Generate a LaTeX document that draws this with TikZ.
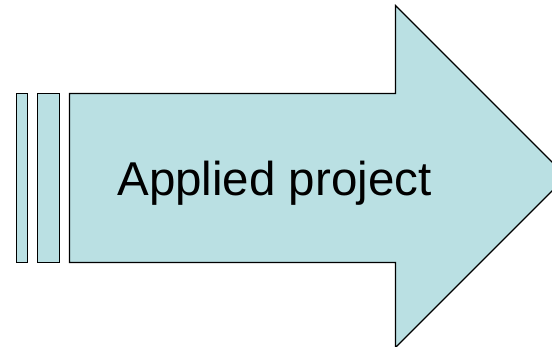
\documentclass[tikz,border=0pt]{standalone}
\usepackage{fontspec}
\setmainfont{Liberation Sans}
\definecolor{arrowfill}{RGB}{186,224,227}
\tikzset{
  arrowpart/.style={fill=arrowfill, draw=black, line width=1.6pt, line join=miter},
  label/.style={font=\fontsize{47.5}{50}\selectfont, inner sep=0pt, anchor=base}
}
\begin{document}
\begin{tikzpicture}[x=1pt,y=-1pt]
  \useasboundingbox (0,0) rectangle (552,347);
  \begin{scope}
    \clip (0,0) rectangle (552,347);
    % two narrow stripes behind the arrow
    \draw[arrowpart] (16.5,93.5) rectangle (27.5,262.5);
    \draw[arrowpart] (37.5,93.5) rectangle (59.5,262.5);
    % arrow body with head
    \draw[arrowpart, line width=1.2pt]
      (69.5,93.5) -- (395.5,93.5) -- (395.5,5.5) -- (566.5,176.5)
      -- (395.5,347.5) -- (395.5,262.5) -- (69.5,262.5) -- cycle;
  \end{scope}
  \node[label] (title) at (274.5,196) {Applied project};
\end{tikzpicture}
\end{document}
